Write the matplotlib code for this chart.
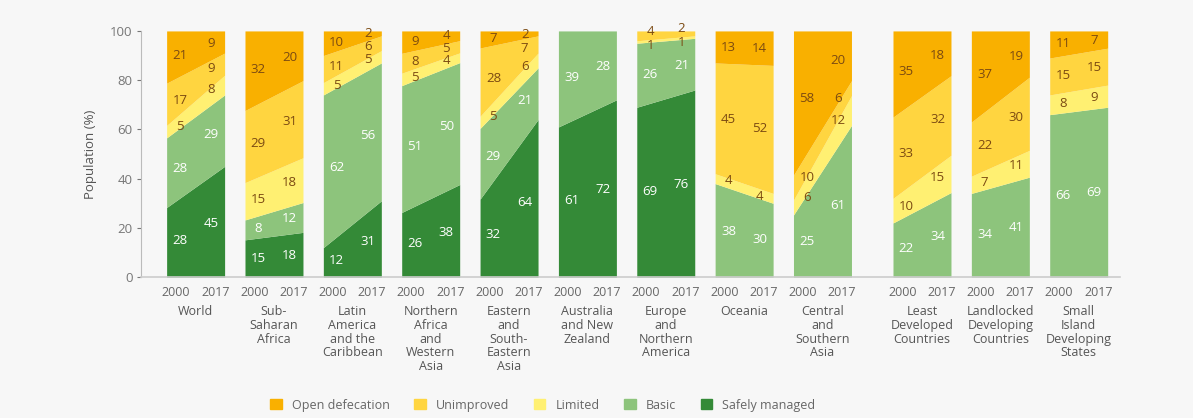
import numpy as np
import matplotlib
matplotlib.use("Agg")
import matplotlib.pyplot as plt
from matplotlib.patches import Patch
from matplotlib.transforms import blended_transform_factory

plt.rcParams["font.family"] = ["Open Sans", "DejaVu Sans"]

REGIONS = ["World", "Sub-\nSaharan\nAfrica", "Latin\nAmerica\nand the\nCaribbean",
           "Northern\nAfrica\nand\nWestern\nAsia", "Eastern\nand\nSouth-\nEastern\nAsia",
           "Australia\nand New\nZealand", "Europe\nand\nNorthern\nAmerica", "Oceania",
           "Central\nand\nSouthern\nAsia", "Least\nDeveloped\nCountries",
           "Landlocked\nDeveloping\nCountries", "Small\nIsland\nDeveloping\nStates"]
YEARS = ["2000", "2017"]
N = None
# service levels, bottom to top
safely_2000 = [28, 15, 12, 26, 32, 61, 69, N, N, N, N, N]
safely_2017 = [45, 18, 31, 38, 64, 72, 76, N, N, N, N, N]
basic_2000 = [28, 8, 62, 51, 29, 39, 26, 38, 25, 22, 34, 66]
basic_2017 = [29, 12, 56, 50, 21, 28, 21, 30, 61, 34, 41, 69]
limited_2000 = [5, 15, 5, 5, 5, N, 1, 4, 6, 10, 7, 8]
limited_2017 = [8, 18, 5, 4, 6, N, 1, 4, 12, 15, 11, 9]
unimproved_2000 = [17, 29, 11, 8, 28, N, 4, 45, 10, 33, 22, 15]
unimproved_2017 = [9, 31, 6, 5, 7, N, 2, 52, 6, 32, 30, 15]
open_2000 = [21, 32, 10, 9, 7, N, N, 13, 58, 35, 37, 11]
open_2017 = [9, 20, 2, 4, 2, N, N, 14, 20, 18, 19, 7]

LEVELS = ["Safely managed", "Basic", "Limited", "Unimproved", "Open defecation"]
SERIES = [(safely_2000, safely_2017), (basic_2000, basic_2017), (limited_2000, limited_2017),
          (unimproved_2000, unimproved_2017), (open_2000, open_2017)]
COLORS = ["#348a37", "#8dc47c", "#fff072", "#ffd540", "#f9b000"]
TXT = ["white", "white", "#7b4a12", "#7b4a12", "#7b4a12"]

BG = "#f7f7f7"
fig = plt.figure(figsize=(11.93, 4.18), dpi=100, facecolor=BG)
ax = fig.add_axes([0.118, 0.337, 0.821, 0.589], facecolor=BG)

W = 0.74
centers = np.arange(len(REGIONS)) + 0.27 * (np.arange(len(REGIONS)) >= 9)
v = lambda a: np.array([0 if x is None else x for x in a], dtype=float)
tot0 = sum(v(s0) for s0, _ in SERIES)
tot1 = sum(v(s1) for _, s1 in SERIES)
MINGAP = 5.4

for g, c in enumerate(centers):
    x0, x1 = c - W / 2, c + W / 2
    k0, k1 = 100.0 / tot0[g], 100.0 / tot1[g]  # bars fill to 100 %
    b0 = b1 = 0.0
    labels = {0: [], 1: []}
    for k, (s0, s1) in enumerate(SERIES):
        a0, a1 = v(s0)[g] * k0, v(s1)[g] * k1
        ax.fill_between([x0, x1], [b0, b1], [b0 + a0, b1 + a1], color=COLORS[k], lw=0)
        for yi, (val, f) in enumerate([(s0[g], 0.1), (s1[g], 0.9)]):
            if val is None:
                continue
            lo = b0 + f * (b1 - b0)
            hi = (b0 + a0) + f * ((b1 + a1) - (b0 + a0))
            labels[yi].append([(lo + hi) / 2, val, k])
        b0 += a0
        b1 += a1
    for yi in (0, 1):
        L = labels[yi]
        for i in range(1, len(L)):
            gap = L[i][0] - L[i - 1][0]
            if gap < MINGAP:
                sh = (MINGAP - gap) / 2
                L[i][0] += sh
                L[i - 1][0] -= sh
        xl = c + (-0.2 if yi == 0 else 0.2)
        for y, val, k in L:
            ax.text(xl, y, str(val), ha="center", va="center", fontsize=9.5, color=TXT[k])

ax.set_xlim(-0.70, 11.8)
ax.set_ylim(0, 100)
ax.set_yticks(range(0, 101, 20))
ax.tick_params(axis="y", colors="#777777", labelsize=9.5, length=3, width=0.8, pad=3)
ax.tick_params(axis="x", length=0)
ax.set_xticks([])
for s in ["top", "right"]:
    ax.spines[s].set_visible(False)
ax.spines["left"].set_color("#bbbbbb")
ax.spines["bottom"].set_color("#cccccc")
ax.spines["bottom"].set_linewidth(1.2)
ax.set_ylabel("Population (%)", fontsize=9.5, color="#555555", labelpad=9)

tr = blended_transform_factory(ax.transData, ax.transAxes)
for c, name in zip(centers, REGIONS):
    ax.text(c - 0.25, -0.062, YEARS[0], transform=tr, ha="center", va="center",
            fontsize=9, color="#666666")
    ax.text(c + 0.25, -0.062, YEARS[1], transform=tr, ha="center", va="center",
            fontsize=9, color="#666666")
    ax.text(c, -0.113, name, transform=tr, ha="center", va="top", fontsize=9,
            color="#555555", linespacing=1.08)

handles = [Patch(color=COLORS[k], label=LEVELS[k]) for k in range(4, -1, -1)]
fig.legend(handles=handles, loc="center", bbox_to_anchor=(0.455, 0.031), ncol=5,
           frameon=False, fontsize=9, handlelength=0.9, handleheight=0.9,
           columnspacing=2.0, handletextpad=0.8, labelcolor="#666666")

fig.savefig("out.png", dpi=100, facecolor=BG)
